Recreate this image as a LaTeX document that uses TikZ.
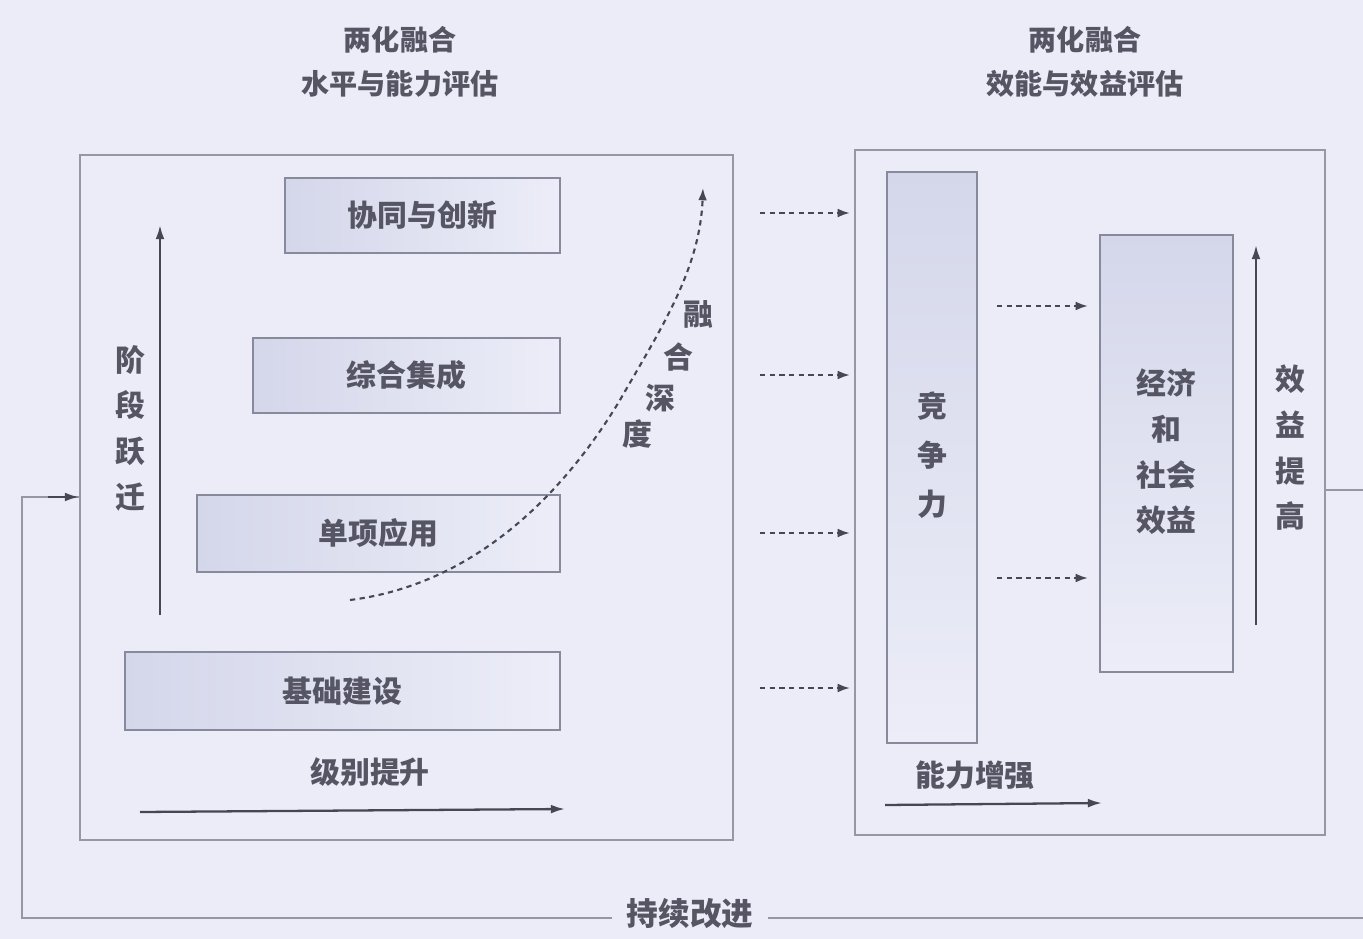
\documentclass[tikz,border=0pt]{standalone}
\usepackage{fontspec}
\setmainfont{Noto Sans CJK SC}
\usetikzlibrary{arrows.meta}
\definecolor{bgc}{RGB}{236,236,248}
\definecolor{boxline}{RGB}{150,150,165}
\definecolor{barline}{RGB}{135,138,155}
\definecolor{bartop}{RGB}{212,215,234}
\definecolor{barbot}{RGB}{236,237,248}
\definecolor{ink}{RGB}{85,85,100}
\definecolor{arr}{RGB}{70,70,85}
\tikzset{
  outerbox/.style={draw=boxline, line width=1.3pt},
  bar/.style={draw=barline, line width=1.6pt, left color=bartop, right color=barbot, text=ink, font=\fontsize{17}{20}\selectfont\bfseries, inner sep=0pt},
  vbar/.style={draw=barline, line width=1.6pt, top color=bartop, bottom color=barbot, inner sep=0pt},
  lbl/.style={text=ink, font=\fontsize{17}{22}\selectfont\bfseries, align=center, inner sep=1pt},
  vlbl/.style={text=ink, font=\fontsize{17}{26}\selectfont\bfseries, align=center, inner sep=1pt},
  ttl/.style={text=ink, font=\fontsize{16}{25}\selectfont\bfseries, align=center},
  flow/.style={draw=arr, line width=1.2pt, dash pattern=on 3pt off 2.5pt, -{Latex[length=7pt,width=5pt]}},
  solidarr/.style={draw=arr, line width=1.3pt, -{Latex[length=8pt,width=5pt]}},
  loop/.style={draw=boxline, line width=1.6pt}
}
\begin{document}
\begin{tikzpicture}[x=0.02cm,y=-0.02cm]
\fill[bgc] (0,0) rectangle (1363,939);
\useasboundingbox (0,0) rectangle (1363,939);

% titles
\node[ttl] (t1) at (400,62) {两化融合\\水平与能力评估};
\node[ttl] (t2) at (1085,62) {两化融合\\效能与效益评估};

% outer boxes
\draw[outerbox] (80,155) rectangle (733,840);
\draw[outerbox] (855,150) rectangle (1325,835);

% left bars
\node[bar, minimum width=5.5cm, minimum height=1.5cm] (xt) at (422.5,215.5) {协同与创新};
\node[bar, minimum width=6.14cm, minimum height=1.5cm] (zh) at (406.5,375.5) {综合集成};
\node[bar, minimum width=7.26cm, minimum height=1.54cm] (dx) at (378.5,533.5) {单项应用};
\node[bar, minimum width=8.7cm, minimum height=1.56cm] (jc) at (342.5,691) {基础建设};

% left vertical arrow and label
\coordinate (la1) at (160,615);
\coordinate (la2) at (160,225);
\draw[solidarr] (la1) -- (la2);
\node[vlbl] (jdyq) at (130,428) {阶\\段\\跃\\迁};

% bottom left arrow
\node[lbl] (jbts) at (370,772) {级别提升};
\coordinate (ba1) at (140,812);
\coordinate (ba2) at (565,809);
\draw[solidarr] (ba1) -- (ba2);

% curve
\coordinate (c1) at (350,600);
\coordinate (c2) at (703,188);
\draw[flow] (c1) .. controls (470,585) and (560,500) .. (620,400) .. controls (660,330) and (700,270) .. (c2);
\node[lbl] (cv1) at (698,314) {融};
\node[lbl] (cv2) at (678,357) {合};
\node[lbl] (cv3) at (660,398) {深};
\node[lbl] (cv4) at (637,434) {度};

% middle dotted arrows
\foreach \i/\y in {1/213,2/375,3/533,4/688}{
  \coordinate (m\i a) at (760,\y);
  \coordinate (m\i b) at (850,\y);
  \draw[flow] (m\i a) -- (m\i b);
}

% right bars
\node[vbar, minimum width=1.8cm, minimum height=11.42cm] (jzl) at (932,457.5) {};
\node[vlbl, font=\fontsize{17}{28}\selectfont\bfseries] (jzlt) at (932,455) {竞\\争\\力};
\node[vbar, minimum width=2.66cm, minimum height=8.74cm] (jj) at (1166.5,453.5) {};
\node[vlbl] (jjt) at (1166.5,452) {经济\\和\\社会\\效益};

% arrows between right bars
\coordinate (r1a) at (997,306);
\coordinate (r1b) at (1088,306);
\coordinate (r2a) at (997,578);
\coordinate (r2b) at (1088,578);
\draw[flow] (r1a) -- (r1b);
\draw[flow] (r2a) -- (r2b);

% right vertical arrow and label
\coordinate (ra1) at (1256,625);
\coordinate (ra2) at (1256,245);
\draw[solidarr] (ra1) -- (ra2);
\node[vlbl] (xytg) at (1290,448) {效\\益\\提\\高};

% bottom right arrow
\node[lbl] (nlzq) at (975,775) {能力增强};
\coordinate (bb1) at (885,805);
\coordinate (bb2) at (1102,803);
\draw[solidarr] (bb1) -- (bb2);

% feedback loop
\node[lbl, fill=bgc, inner xsep=8pt, font=\fontsize{18}{22}\selectfont\bfseries] (cxgj) at (690,914) {持续改进};
\coordinate (f0) at (1326,490);
\coordinate (f1) at (1363,490);
\coordinate (f2) at (1363,918);
\coordinate (f3) at (22,918);
\coordinate (f4) at (22,497);
\coordinate (f5) at (79,497);
\draw[loop] (f0) -- (f1);
\draw[loop] (f2) -- (cxgj.east |- f2);
\draw[loop] (cxgj.west |- f3) -- (f3) -- (f4) -- (f5);
\draw[draw=arr, line width=1.3pt, -{Latex[length=8pt,width=5pt]}] (48,497) -- (f5);
\end{tikzpicture}
\end{document}
